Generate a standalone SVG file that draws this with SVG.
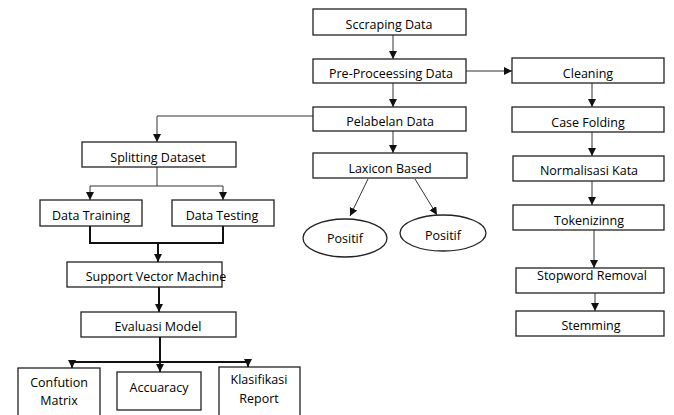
<svg xmlns="http://www.w3.org/2000/svg" width="674" height="415" viewBox="0 0 674 415">
<defs>
<style>
.b{fill:#fff;stroke:#222;stroke-width:1.3}
.t{font-family:"Open Sans","Noto Sans",sans-serif;font-size:12.5px;fill:#000;text-anchor:middle}
.c{fill:none;stroke:#333;stroke-width:1}
.k{fill:none;stroke:#111;stroke-width:2}
</style>
<marker id="a" markerUnits="userSpaceOnUse" markerWidth="10" markerHeight="10" refX="8" refY="4" orient="auto"><path d="M0,0 L8,4 L0,8 Z" fill="#111"/></marker>
</defs>
<rect width="674" height="415" fill="#fff"/>
<g id="connectors">
<path class="c" d="M393,35 V59" marker-end="url(#a)"/>
<path class="c" d="M393,83 V107" marker-end="url(#a)"/>
<path class="c" d="M466,71 H512" marker-end="url(#a)"/>
<path class="c" d="M393,131 V153" marker-end="url(#a)"/>
<path class="c" d="M313,116 H157 V142" marker-end="url(#a)"/>
<path class="c" d="M368,179 L350,216" marker-end="url(#a)"/>
<path class="c" d="M415,179 L437,215" marker-end="url(#a)"/>
<path class="c" d="M592,83 V107" marker-end="url(#a)"/>
<path class="c" d="M592,132 V156" marker-end="url(#a)"/>
<path class="c" d="M592,181 V205" marker-end="url(#a)"/>
<path class="c" d="M594,230 V268" marker-end="url(#a)"/>
<path class="c" d="M595,293 V311" marker-end="url(#a)"/>
<path class="c" d="M157,167 V186 M90,186 H223"/>
<path class="c" d="M90,186 V200" marker-end="url(#a)"/>
<path class="c" d="M223,186 V200" marker-end="url(#a)"/>
<path class="k" d="M90,226 V243 H223 V226"/>
<path class="k" d="M158,243 V262" marker-end="url(#a)"/>
<path class="k" d="M159,287 V312" marker-end="url(#a)"/>
<path class="k" d="M160,337 V362 M72,362 H248"/>
<path class="k" d="M72,362 V368" marker-end="url(#a)"/>
<path class="k" d="M160,362 V372" marker-end="url(#a)"/>
<path class="k" d="M248,362 V367" marker-end="url(#a)"/>
</g>
<g id="scraping"><rect class="b" x="313" y="9" width="153" height="26"/><text class="t" x="389" y="29">Sccraping Data</text></g>
<g id="preprocessing"><rect class="b" x="313" y="59" width="153" height="24"/><text class="t" x="391" y="78">Pre-Proceessing Data</text></g>
<g id="pelabelan"><rect class="b" x="313" y="107" width="153" height="24"/><text class="t" x="390" y="126">Pelabelan Data</text></g>
<g id="laxicon"><rect class="b" x="313" y="153" width="154" height="25"/><text class="t" x="390" y="173">Laxicon Based</text></g>
<g id="positif1"><ellipse class="b" cx="345" cy="238" rx="42" ry="19"/><text class="t" x="345" y="243">Positif</text></g>
<g id="positif2"><ellipse class="b" cx="443" cy="233" rx="43" ry="18"/><text class="t" x="443" y="240">Positif</text></g>
<g id="cleaning"><rect class="b" x="512" y="58" width="152" height="25"/><text class="t" x="588" y="78">Cleaning</text></g>
<g id="casefolding"><rect class="b" x="512" y="107" width="152" height="25"/><text class="t" x="588" y="127">Case Folding</text></g>
<g id="normalisasi"><rect class="b" x="513" y="156" width="151" height="25"/><text class="t" x="589" y="175">Normalisasi Kata</text></g>
<g id="tokenizing"><rect class="b" x="513" y="205" width="151" height="25"/><text class="t" x="589" y="225">Tokenizinng</text></g>
<g id="stopword"><rect class="b" x="516" y="268" width="148" height="25"/><text class="t" x="592" y="280">Stopword Removal</text></g>
<g id="stemming"><rect class="b" x="516" y="311" width="148" height="25"/><text class="t" x="591" y="330">Stemming</text></g>
<g id="splitting"><rect class="b" x="82" y="142" width="154" height="25"/><text class="t" x="158" y="162">Splitting Dataset</text></g>
<g id="training"><rect class="b" x="40" y="200" width="102" height="26"/><text class="t" x="91" y="220">Data Training</text></g>
<g id="testing"><rect class="b" x="172" y="200" width="102" height="26"/><text class="t" x="222" y="220">Data Testing</text></g>
<g id="svm"><rect class="b" x="67" y="262" width="155" height="25"/><text class="t" x="156" y="281">Support Vector Machine</text></g>
<g id="evaluasi"><rect class="b" x="81" y="312" width="155" height="25"/><text class="t" x="158" y="331">Evaluasi Model</text></g>
<g id="confusion"><rect class="b" x="18" y="368" width="82" height="52"/><text class="t" x="59" y="387">Confution</text><text class="t" x="59" y="405">Matrix</text></g>
<g id="accuracy"><rect class="b" x="117" y="372" width="84" height="38"/><text class="t" x="159" y="392">Accuaracy</text></g>
<g id="report"><rect class="b" x="219" y="367" width="81" height="53"/><text class="t" x="259" y="384">Klasifikasi</text><text class="t" x="259" y="403">Report</text></g>
</svg>
